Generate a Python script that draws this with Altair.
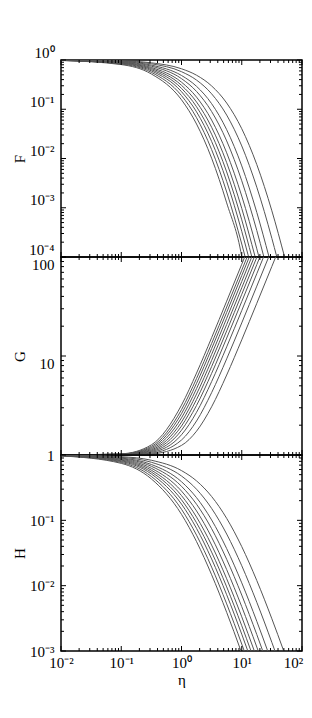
import altair as alt
import pandas as pd

ETA = [0.01, 0.1, 0.3162, 1, 1.778, 3.162, 5.623, 10, 17.78, 31.62, 56.23, 100]

# values read on the ETA grid, kept while inside the panel
F_CURVES = [
    [0.978, 0.807, 0.520, 0.1556, 0.0501, 0.01014, 1.256e-3, 1.007e-4],
    [0.981, 0.828, 0.5615, 0.1895, 0.0673, 0.01516, 2.091e-3, 1.835e-4],
    [0.983, 0.847, 0.601, 0.2273, 0.0885, 0.02224, 3.43e-3, 3.32e-4],
    [0.985, 0.864, 0.636, 0.2653, 0.1122, 0.03115, 5.34e-3, 5.68e-4],
    [0.987, 0.879, 0.671, 0.3064, 0.1402, 0.04309, 8.24e-3, 9.70e-4],
    [0.989, 0.894, 0.706, 0.3545, 0.1763, 0.06037, 0.01305, 1.728e-3, 1.466e-4],
    [0.991, 0.911, 0.749, 0.4183, 0.2297, 0.08988, 0.02275, 3.53e-3, 3.44e-4],
    [0.992, 0.927, 0.788, 0.4850, 0.2917, 0.1298, 0.03849, 7.08e-3, 8.04e-4],
    [0.994, 0.945, 0.837, 0.5791, 0.3908, 0.2058, 0.07615, 0.01800, 2.61e-3, 2.39e-4],
    [0.996, 0.958, 0.876, 0.6633, 0.4909, 0.2975, 0.1338, 0.04024, 7.52e-3, 8.66e-4],
]
# eta where each F curve meets the bottom frame (F = 1e-4)
F_EXIT_ETA = [10.01, 11.40, 13.00, 14.71, 16.71, 19.30, 23.31, 28.40, 38.20, 51.42]

G_CURVES = [
    [1.0003, 1.0276, 1.266, 3.191, 6.724, 15.30, 35.79, 84.49],
    [1.0002, 1.0230, 1.223, 2.870, 5.931, 13.38, 31.22, 73.66],
    [1.0002, 1.0194, 1.189, 2.615, 5.294, 11.85, 27.56, 64.95],
    [1.0002, 1.0162, 1.158, 2.372, 4.685, 10.37, 24.04, 56.57],
    [1.0001, 1.0133, 1.1305, 2.152, 4.128, 9.021, 20.80, 48.89],
    [1.0001, 1.0109, 1.107, 1.960, 3.636, 7.818, 17.92, 42.03, 99.33],
    [1.0001, 1.0086, 1.0855, 1.779, 3.170, 6.671, 15.17, 35.49, 83.78],
    [1.0001, 1.0065, 1.0648, 1.601, 2.701, 5.511, 12.37, 28.81, 67.93],
    [1.0000, 1.0044, 1.0441, 1.417, 2.206, 4.265, 9.355, 21.60, 50.79],
    [1.0000, 1.0026, 1.0258, 1.250, 1.741, 3.069, 6.422, 14.57, 34.06, 80.40],
]
# eta where each G curve meets the top frame (G = 100)
G_EXIT_ETA = [11.19, 12.27, 13.34, 14.63, 16.14, 17.86, 20.01, 23.03, 27.98, 36.58]

H_CURVES = [
    [0.9695, 0.7446, 0.4302, 0.1235, 0.04721, 0.01470, 3.903e-3],
    [0.9731, 0.7695, 0.4696, 0.1476, 0.05929, 0.01924, 5.266e-3, 1.276e-3],
    [0.9765, 0.7948, 0.5118, 0.1773, 0.07519, 0.02561, 7.263e-3, 1.805e-3],
    [0.9791, 0.8151, 0.5482, 0.2062, 0.09173, 0.03262, 9.578e-3, 2.437e-3],
    [0.9816, 0.8346, 0.5855, 0.2392, 0.1120, 0.04178, 0.01275, 3.335e-3],
    [0.9841, 0.8550, 0.6263, 0.2804, 0.1393, 0.05501, 0.01761, 4.770e-3, 1.149e-3],
    [0.9866, 0.8762, 0.6717, 0.3317, 0.1763, 0.07453, 0.02534, 7.177e-3, 1.783e-3],
    [0.9889, 0.8961, 0.7162, 0.3898, 0.2222, 0.1014, 0.03690, 0.01104, 2.847e-3],
    [0.9916, 0.9199, 0.7739, 0.4766, 0.2991, 0.1523, 0.06172, 0.02018, 5.559e-3, 1.353e-3],
    [0.9939, 0.9417, 0.8307, 0.5771, 0.4012, 0.2317, 0.1072, 0.03957, 0.01197, 3.112e-3],
]
# eta where each H curve meets the bottom frame (H = 1e-3)
H_EXIT_ETA = [9.71, 11.00, 12.62, 14.24, 16.18, 18.77, 22.33, 26.97, 35.60, 49.73]

X_DOMAIN = [0.01, 100]
F_DOMAIN = [1e-4, 1]
G_DOMAIN = [1, 100]
H_DOMAIN = [1e-3, 1]

MANTISSAS = [2, 3, 4, 5, 6, 7, 8, 9]
X_DECADES = [0.01, 0.1, 1, 10, 100]
F_DECADES = [1e-4, 1e-3, 1e-2, 1e-1, 1]
G_DECADES = [1, 10, 100]
H_DECADES = [1e-3, 1e-2, 1e-1, 1]

X_LABEL_VALUES = [0.01, 0.1, 1, 10, 100]
X_LABELS = ["10⁻²", "10⁻¹", "10⁰", "10¹", "10²"]
F_LABEL_VALUES = [1e-4, 1e-3, 1e-2, 1e-1, 1]
F_LABELS = ["10⁻⁴", "10⁻³", "10⁻²", "10⁻¹", "10⁰"]
G_LABEL_VALUES = [10, 100]
G_LABELS = ["10", "100"]
H_LABEL_VALUES = [1e-3, 1e-2, 1e-1, 1]
H_LABELS = ["10⁻³", "10⁻²", "10⁻¹", "1"]

W = 241
FONT = "Liberation Serif"
LINE_COLOR = "#555555"
MAJOR_LEN = 5
MINOR_LEN = 3


def minors(decades):
    return [m * d for d in decades[:-1] for m in MANTISSAS]


def label_expr(values, texts):
    expr = "''"
    for v, t in reversed(list(zip(values, texts))):
        expr = f"(abs(datum.value - {v!r}) < {v!r} * 0.001 ? '{t}' : {expr})"
    return expr


def long_form(curves, exit_eta, exit_val):
    rows = []
    for i, c in enumerate(curves):
        for e, v in zip(ETA, c):
            rows.append({"eta": e, "val": v, "curve": i})
        rows.append({"eta": exit_eta[i], "val": exit_val, "curve": i})
    return pd.DataFrame(rows)


def yrules(vals, length, left, ys):
    df = pd.DataFrame({"v": vals})
    x0 = 0 if left else W
    x1 = length if left else W - length
    return alt.Chart(df).mark_rule(color="black", strokeWidth=1).encode(
        y=alt.Y("v:Q", scale=ys, axis=None), x=alt.value(x0), x2=alt.value(x1)
    )


def xrules(vals, length, top, xs, height):
    df = pd.DataFrame({"v": vals})
    y0 = 0 if top else height
    y1 = length if top else height - length
    return alt.Chart(df).mark_rule(color="black", strokeWidth=1).encode(
        x=alt.X("v:Q", scale=xs, axis=None), y=alt.value(y0), y2=alt.value(y1)
    )


def panel(name, curves, exit_eta, exit_val, ydomain, ydecades, lab_vals, lab_texts,
          lab_offset, height, show_x):
    xs = alt.Scale(type="log", domain=X_DOMAIN, nice=False)
    ys = alt.Scale(type="log", domain=ydomain, nice=False)
    yaxis = alt.Axis(
        orient="left",
        values=lab_vals, labelExpr=label_expr(lab_vals, lab_texts), title=name,
        ticks=False, tickSize=0, domain=False, grid=False, labelPadding=7,
        labelOffset=lab_offset, titleX=-42, titleY=height / 2,
        titleBaseline="middle", titleAlign="center",
    )
    if show_x:
        xaxis = alt.Axis(
            orient="bottom",
            values=X_LABEL_VALUES, labelExpr=label_expr(X_LABEL_VALUES, X_LABELS),
            title="η", ticks=False, tickSize=0, domain=False, grid=False,
            labelPadding=4, titlePadding=2, labelFlush=False,
            labelOffset={"condition": {"test": "datum.value > 50", "value": -9}, "value": 0},
        )
    else:
        xaxis = None
    lines = alt.Chart(long_form(curves, exit_eta, exit_val)).mark_line(
        clip=True, interpolate="monotone", color=LINE_COLOR, strokeWidth=1
    ).encode(
        x=alt.X("eta:Q", scale=xs, axis=xaxis),
        y=alt.Y("val:Q", scale=ys, axis=yaxis),
        detail="curve:N",
    )
    ymin = minors(ydecades)
    xmin = minors(X_DECADES)
    layers = [
        lines,
        yrules(ydecades, MAJOR_LEN, True, ys), yrules(ymin, MINOR_LEN, True, ys),
        yrules(ydecades, MAJOR_LEN, False, ys), yrules(ymin, MINOR_LEN, False, ys),
        xrules(X_DECADES, MAJOR_LEN, True, xs, height), xrules(xmin, MINOR_LEN, True, xs, height),
        xrules(X_DECADES, MAJOR_LEN, False, xs, height), xrules(xmin, MINOR_LEN, False, xs, height),
    ]
    return (
        alt.layer(*layers)
        .resolve_axis(x="independent", y="independent")
        .properties(width=W, height=height)
    )


pF = panel("F", F_CURVES, F_EXIT_ETA, F_DOMAIN[0], F_DOMAIN, F_DECADES,
           F_LABEL_VALUES, F_LABELS, -8, 197, False)
pG = panel("G", G_CURVES, G_EXIT_ETA, G_DOMAIN[1], G_DOMAIN, G_DECADES,
           G_LABEL_VALUES, G_LABELS, 7, 198, False)
pH = panel("H", H_CURVES, H_EXIT_ETA, H_DOMAIN[0], H_DOMAIN, H_DECADES,
           H_LABEL_VALUES, H_LABELS, 0, 196, True)

chart = (
    alt.vconcat(pF, pG, pH, spacing=0, bounds="flush")
    .resolve_scale(y="independent")
    .properties(padding={"left": 3, "top": 36, "right": 0, "bottom": 0})
    .configure_view(stroke="black", strokeWidth=1.5)
    .configure_axis(
        labelFont=FONT, titleFont=FONT, labelFontSize=15, titleFontSize=15,
        titleFontWeight="normal", labelColor="black", titleColor="black",
    )
)

chart.save("out.html", embed_options={"renderer": "svg", "actions": False})
